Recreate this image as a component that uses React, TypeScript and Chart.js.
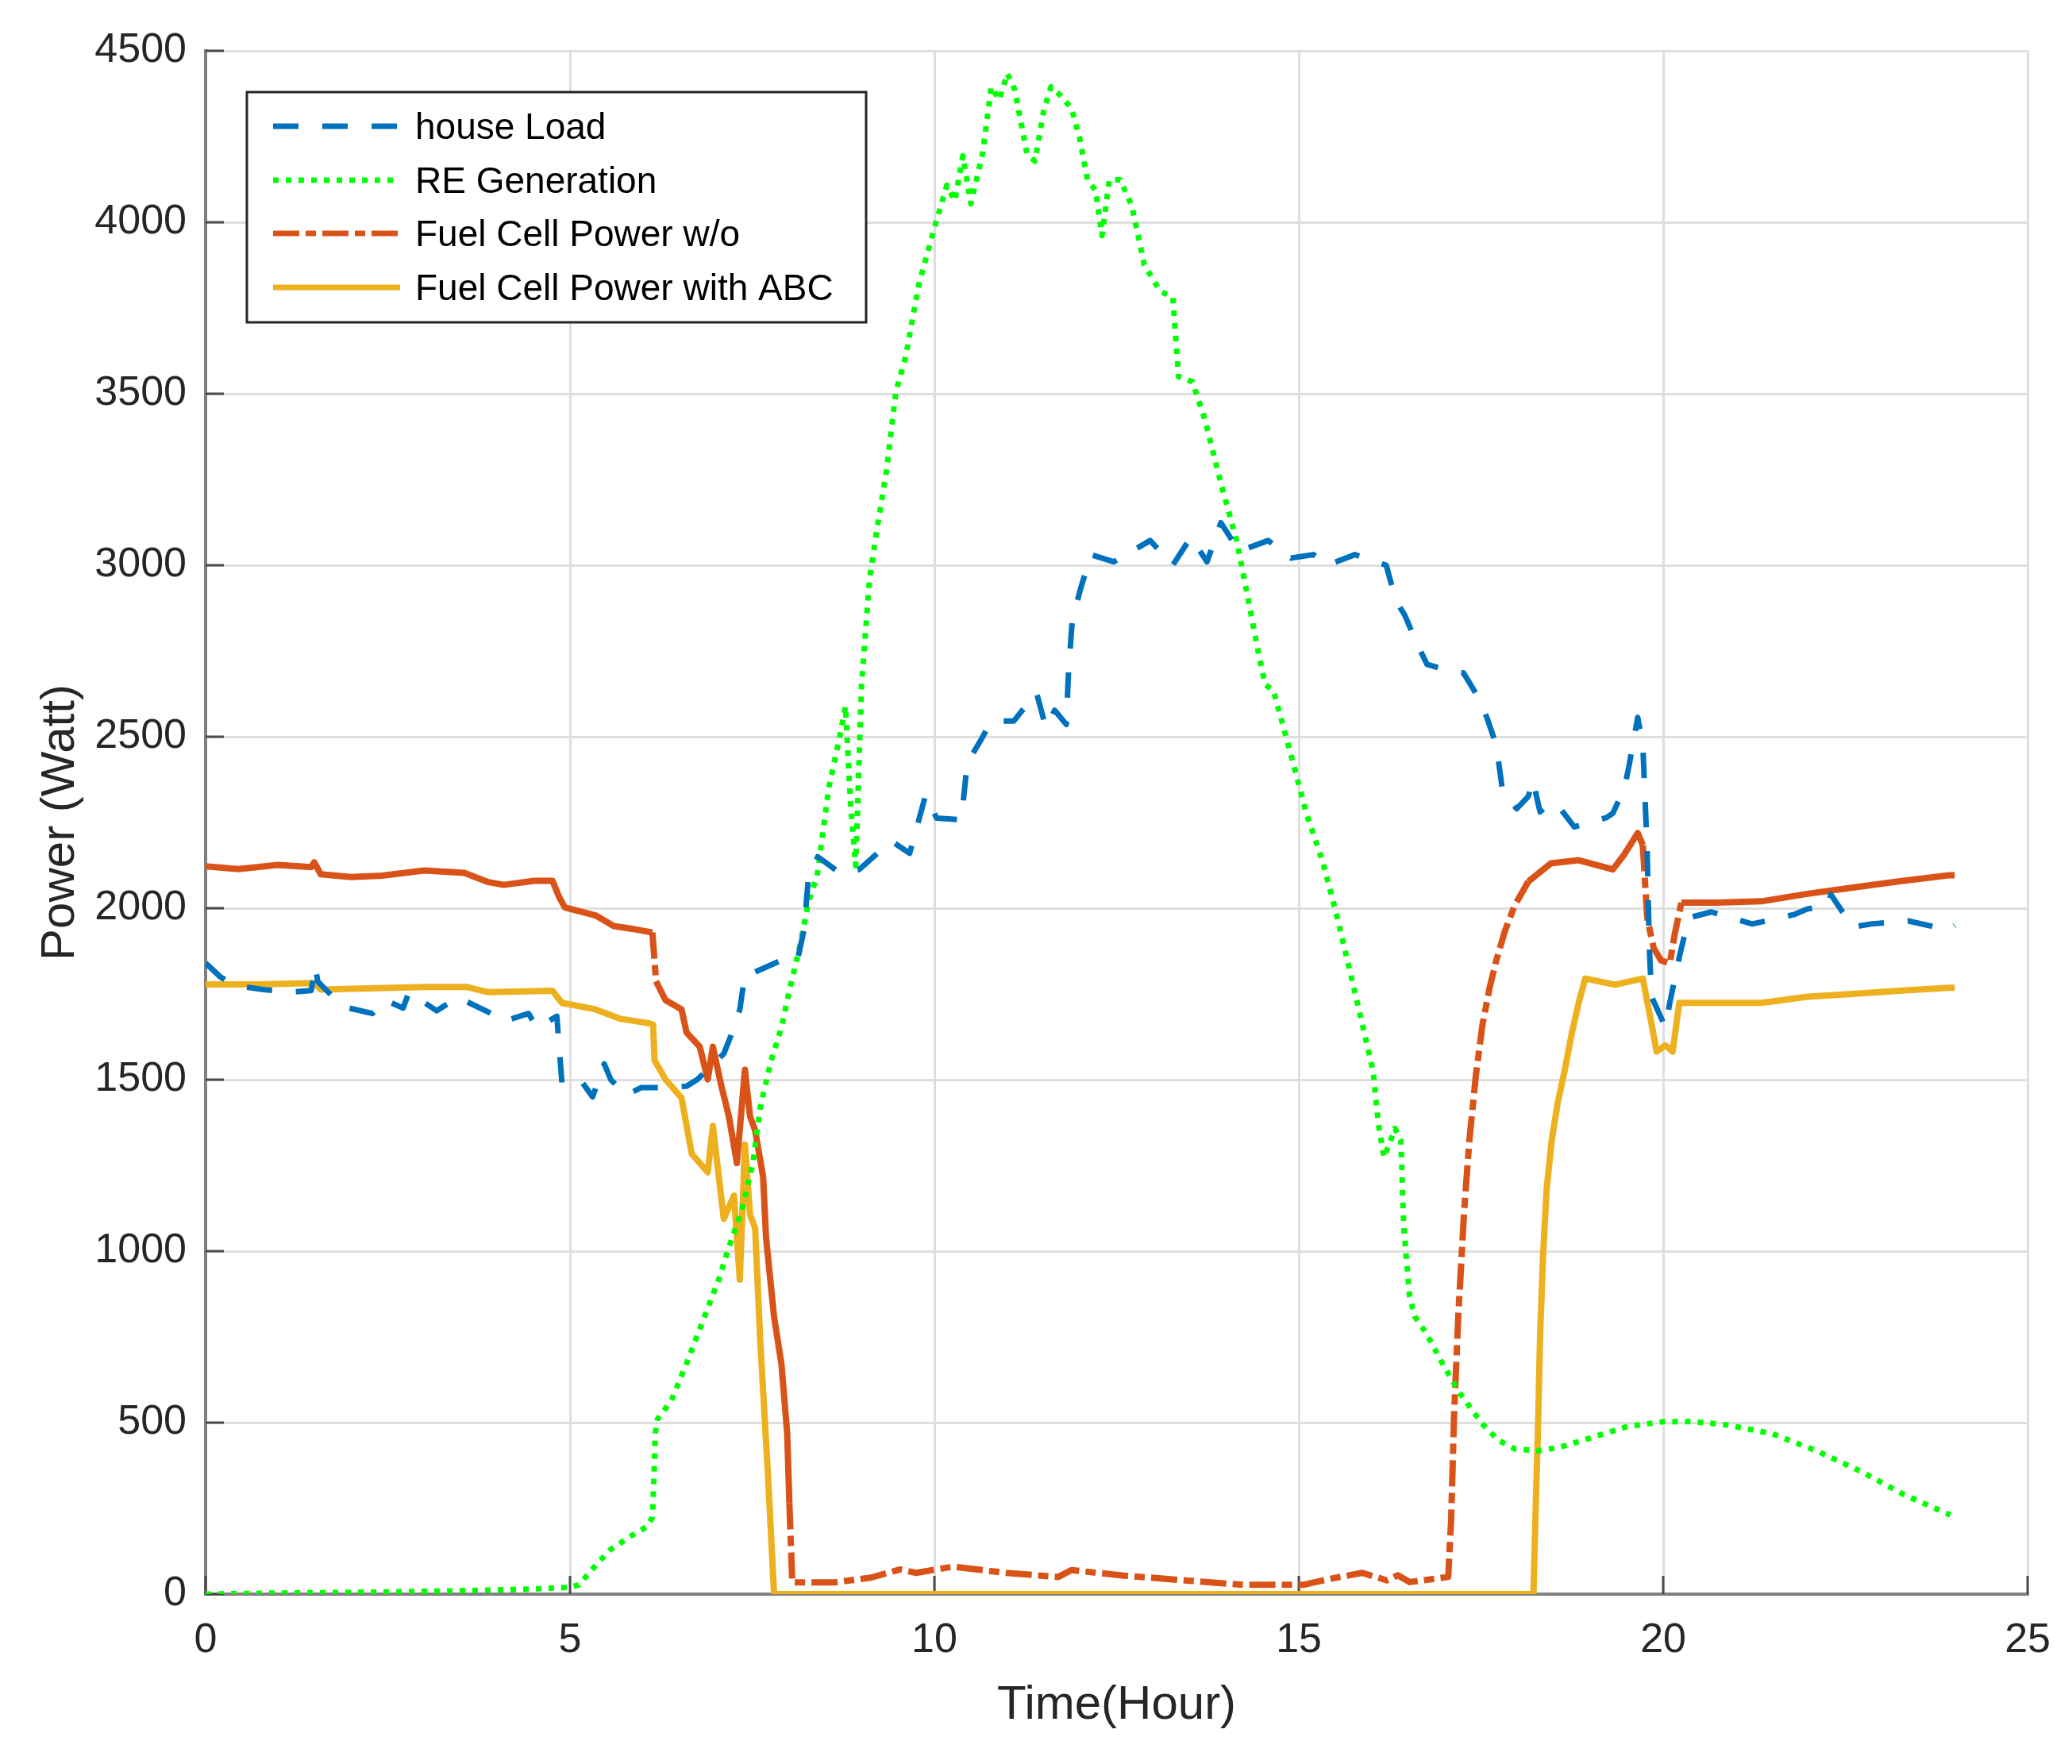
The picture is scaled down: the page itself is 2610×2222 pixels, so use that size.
import React, { useEffect, useRef } from 'react';
import { Chart, registerables } from 'chart.js';

Chart.register(...registerables);

const W = 2610;
const H = 2222;
const PLOT = { left: 259, right: 2563, top: 64, bottom: 2008 };

const xTicks = [0, 5, 10, 15, 20, 25];
const yTicks = [0, 500, 1000, 1500, 2000, 2500, 3000, 3500, 4000, 4500];

const seriesNames = ['house Load', 'RE Generation', 'Fuel Cell Power w/o', 'Fuel Cell Power with ABC'];
const seriesColors = ['#0072BD', '#00FF00', '#D95319', '#EDB120'];

const loadT = [0, 0.2, 0.4, 0.78, 1.16, 1.45, 1.5, 1.54, 1.83, 1.96, 2.29, 2.46, 2.71, 2.79, 3.17, 3.46, 3.92, 4.09, 4.43, 4.55, 4.82, 4.84, 4.89, 5.14, 5.31, 5.47, 5.56, 5.77, 5.98, 6.23, 6.6, 6.75, 7.11, 7.25, 7.33, 7.4, 7.54, 7.9, 8.12, 8.21, 8.27, 8.4, 8.72, 8.97, 9.41, 9.66, 9.88, 10.03, 10.37, 10.45, 10.65, 10.78, 11.09, 11.4, 11.53, 11.65, 11.81, 11.84, 11.89, 12.0, 12.15, 12.46, 12.96, 13.27, 13.52, 13.74, 13.93, 14.18, 14.58, 14.89, 15.2, 15.39, 15.77, 16.2, 16.33, 16.45, 16.64, 16.76, 17.08, 17.26, 17.45, 17.58, 17.71, 17.8, 17.99, 18.15, 18.21, 18.31, 18.46, 18.59, 18.78, 19.22, 19.31, 19.47, 19.53, 19.65, 19.72, 19.75, 19.78, 19.81, 19.84, 20.03, 20.09, 20.22, 20.35, 20.66, 21.22, 21.79, 21.98, 22.26, 22.3, 22.6, 22.85, 23.36, 23.92, 24];
const loadW = [1840, 1800, 1775, 1763, 1755, 1760, 1832, 1786, 1724, 1709, 1693, 1732, 1709, 1755, 1701, 1740, 1693, 1670, 1693, 1651, 1685, 1624, 1490, 1500, 1450, 1546, 1500, 1455, 1477, 1477, 1481, 1501, 1576, 1651, 1705, 1807, 1814, 1848, 1848, 1936, 2086, 2150, 2100, 2113, 2196, 2160, 2330, 2263, 2258, 2423, 2495, 2546, 2546, 2629, 2526, 2577, 2536, 2691, 2835, 2928, 3031, 3010, 3072, 3000, 3082, 3010, 3124, 3041, 3072, 3021, 3031, 3000, 3031, 3000, 2897, 2856, 2763, 2711, 2691, 2686, 2619, 2556, 2476, 2335, 2290, 2326, 2374, 2281, 2308, 2290, 2237, 2264, 2277, 2352, 2414, 2556, 2476, 2326, 2166, 1883, 1742, 1653, 1724, 1857, 1972, 1989, 1954, 1981, 1998, 2007, 2040, 1945, 1954, 1963, 1936, 1950];

const reT = [0, 1, 2, 3, 4, 4.5, 5, 5.12, 5.37, 5.55, 5.84, 6.06, 6.13, 6.15, 6.17, 6.2, 6.39, 6.6, 6.82, 7.04, 7.18, 7.36, 7.51, 7.61, 7.76, 7.9, 8.01, 8.16, 8.27, 8.39, 8.55, 8.7, 8.78, 8.85, 8.92, 9.0, 9.11, 9.22, 9.34, 9.47, 9.61, 9.78, 10, 10.17, 10.28, 10.39, 10.5, 10.66, 10.78, 10.89, 11.0, 11.1, 11.27, 11.38, 11.5, 11.6, 11.72, 11.88, 11.99, 12.1, 12.21, 12.3, 12.4, 12.55, 12.71, 12.88, 13.1, 13.27, 13.35, 13.54, 13.71, 13.93, 14.15, 14.32, 14.46, 14.54, 14.65, 14.87, 15.1, 15.33, 15.52, 15.77, 16.02, 16.09, 16.17, 16.32, 16.4, 16.44, 16.52, 16.59, 16.75, 16.98, 17.2, 17.51, 17.74, 17.97, 18.28, 18.58, 19.04, 19.5, 20.0, 20.42, 20.88, 21.49, 22.1, 22.72, 23.33, 23.94];
const reW = [0, 3, 5, 8, 12, 15, 20, 27, 88, 129, 170, 197, 224, 333, 469, 510, 564, 673, 795, 917, 1012, 1121, 1257, 1420, 1556, 1651, 1760, 1895, 2018, 2093, 2350, 2500, 2589, 2300, 2124, 2651, 2961, 3116, 3271, 3504, 3612, 3814, 3984, 4108, 4062, 4194, 4054, 4200, 4395, 4357, 4434, 4388, 4200, 4178, 4326, 4395, 4372, 4333, 4248, 4124, 4093, 3961, 4124, 4124, 4047, 3876, 3798, 3783, 3550, 3535, 3426, 3240, 3070, 2884, 2729, 2651, 2636, 2465, 2279, 2134, 1979, 1755, 1524, 1373, 1273, 1358, 1323, 1071, 870, 810, 760, 669, 589, 498, 448, 423, 418, 428, 458, 488, 503, 503, 493, 468, 418, 357, 287, 231];

const fcT = [0, 0.45, 0.99, 1.45, 1.49, 1.58, 2.0, 2.42, 3.0, 3.55, 3.88, 4.09, 4.51, 4.76, 4.85, 4.93, 5.35, 5.6, 5.85, 6.13, 6.16, 6.18, 6.31, 6.53, 6.6, 6.78, 6.89, 6.96, 7.07, 7.18, 7.29, 7.4, 7.47, 7.54, 7.65, 7.69, 7.8, 7.9, 7.98, 8.01, 8.05, 8.27, 8.63, 9.13, 9.53, 9.75, 10.25, 10.98, 11.7, 11.88, 12.6, 13.5, 14.25, 15.06, 15.44, 15.87, 16.21, 16.36, 16.52, 17.05, 17.09, 17.13, 17.19, 17.27, 17.34, 17.43, 17.52, 17.62, 17.71, 17.83, 17.96, 18.15, 18.46, 18.84, 19.31, 19.47, 19.65, 19.72, 19.78, 19.87, 19.97, 20.09, 20.16, 20.25, 20.72, 21.35, 21.98, 22.6, 23.23, 23.92, 24];
const fcW = [2122, 2114, 2126, 2120, 2134, 2099, 2091, 2095, 2110, 2103, 2076, 2068, 2080, 2080, 2033, 2002, 1979, 1948, 1940, 1929, 1848, 1787, 1732, 1705, 1637, 1596, 1501, 1596, 1488, 1393, 1257, 1529, 1393, 1352, 1216, 1039, 808, 673, 469, 265, 34, 34, 34, 48, 72, 62, 80, 62, 50, 70, 54, 39, 27, 27, 45, 62, 40, 55, 35, 50, 216, 518, 820, 1122, 1323, 1514, 1660, 1770, 1848, 1935, 2007, 2078, 2131, 2140, 2113, 2158, 2219, 2184, 1972, 1883, 1848, 1839, 1927, 2016, 2016, 2020, 2042, 2060, 2078, 2096, 2096];

const abcT = [0, 0.74, 1.49, 1.58, 3.0, 3.59, 3.88, 4.76, 4.89, 5.35, 5.68, 6.1, 6.14, 6.16, 6.31, 6.53, 6.67, 6.89, 6.96, 7.11, 7.25, 7.33, 7.4, 7.47, 7.54, 7.61, 7.72, 7.8, 18.22, 18.25, 18.28, 18.31, 18.35, 18.4, 18.47, 18.55, 18.65, 18.75, 18.84, 18.93, 19.34, 19.72, 19.84, 19.91, 20.03, 20.13, 20.22, 20.72, 21.35, 21.98, 22.6, 23.23, 23.92, 24];
const abcW = [1778, 1778, 1782, 1763, 1770, 1770, 1755, 1759, 1724, 1705, 1678, 1664, 1660, 1556, 1501, 1447, 1284, 1230, 1365, 1094, 1162, 917, 1311, 1107, 1067, 740, 333, 0, 0, 250, 468, 750, 980, 1180, 1323, 1430, 1529, 1640, 1724, 1795, 1777, 1795, 1662, 1582, 1600, 1582, 1724, 1724, 1724, 1742, 1750, 1759, 1768, 1768];

const DASH_LOAD = [32, 30];
const DASH_RE = [7, 9];
const DASH_FC = [33, 8, 13, 8];
const dashes = [DASH_LOAD, DASH_RE, DASH_FC, [] as number[]];
const widths = [7, 7, 8, 8];

const toXY = (t: number[], v: number[]) => t.map((x, i) => ({ x, y: v[i] }));

const FONT = "'Liberation Sans', Arial, Helvetica, sans-serif";

const fcDashed = (x0: number) =>
  (x0 >= 6.13 && x0 < 6.18) || (x0 >= 8.0 && x0 < 18.1) || (x0 >= 19.72 && x0 < 20.25);

const innerTicks = {
  id: 'innerTicks',
  beforeDatasetsDraw(chart: any) {
    const { ctx, chartArea, scales } = chart;
    ctx.save();
    ctx.strokeStyle = '#4a4a4a';
    ctx.lineWidth = 3;
    ctx.beginPath();
    for (const v of yTicks) {
      const y = scales.y.getPixelForValue(v);
      ctx.moveTo(chartArea.left, y);
      ctx.lineTo(chartArea.left + 23, y);
    }
    for (const v of xTicks) {
      const x = scales.x.getPixelForValue(v);
      ctx.moveTo(x, chartArea.bottom);
      ctx.lineTo(x, chartArea.bottom - 23);
    }
    ctx.stroke();
    ctx.restore();
  },
};

const boxLegend = {
  id: 'boxLegend',
  afterDraw(chart: any) {
    const ctx = chart.ctx;
    const bx = 311, by = 116, bw = 780, bh = 290;
    ctx.save();
    ctx.fillStyle = '#ffffff';
    ctx.fillRect(bx, by, bw, bh);
    ctx.strokeStyle = '#262626';
    ctx.lineWidth = 3;
    ctx.strokeRect(bx, by, bw, bh);
    const rowY = [159, 227, 294, 362];
    seriesNames.forEach((name, i) => {
      ctx.beginPath();
      ctx.strokeStyle = seriesColors[i];
      ctx.lineWidth = 7;
      ctx.lineCap = 'butt';
      ctx.setLineDash(dashes[i]);
      ctx.moveTo(344, rowY[i]);
      ctx.lineTo(504, rowY[i]);
      ctx.stroke();
      ctx.setLineDash([]);
      ctx.fillStyle = '#000000';
      ctx.font = `46px ${FONT}`;
      ctx.textAlign = 'left';
      ctx.textBaseline = 'middle';
      ctx.fillText(name, 523, rowY[i] + 3);
    });
    ctx.restore();
  },
};

export default function App() {
  const ref = useRef<HTMLCanvasElement | null>(null);

  useEffect(() => {
    document.body.style.margin = '0';
    const canvas = ref.current;
    if (!canvas) return;
    const chart = new Chart(canvas, {
      type: 'line',
      data: {
        datasets: [
          {
            label: seriesNames[0],
            data: toXY(loadT, loadW),
            borderColor: seriesColors[0],
            borderWidth: widths[0],
            borderDash: DASH_LOAD,
            pointRadius: 0,
            fill: false,
          },
          {
            label: seriesNames[1],
            data: toXY(reT, reW),
            borderColor: seriesColors[1],
            borderWidth: widths[1],
            borderDash: DASH_RE,
            pointRadius: 0,
            fill: false,
          },
          {
            label: seriesNames[2],
            data: toXY(fcT, fcW),
            borderColor: seriesColors[2],
            borderWidth: widths[2],
            pointRadius: 0,
            fill: false,
            segment: {
              borderDash: (c: any) => (fcDashed(c.p0.parsed.x) ? DASH_FC : []),
            },
          },
          {
            label: seriesNames[3],
            data: toXY(abcT, abcW),
            borderColor: seriesColors[3],
            borderWidth: widths[3],
            pointRadius: 0,
            fill: false,
          },
        ],
      },
      options: {
        responsive: false,
        animation: false,
        devicePixelRatio: 1,
        parsing: false,
        normalized: true,
        layout: { padding: { left: 0, right: W - PLOT.right, top: PLOT.top, bottom: 0 } },
        elements: { line: { tension: 0, borderJoinStyle: 'round' }, point: { radius: 0 } },
        plugins: { legend: { display: false }, tooltip: { enabled: false } },
        scales: {
          x: {
            type: 'linear',
            min: 0,
            max: 25,
            afterBuildTicks: (s: any) => {
              s.ticks = xTicks.map((value) => ({ value }));
            },
            afterFit: (s: any) => {
              s.height = H - PLOT.bottom;
            },
            grid: { color: '#dedede', lineWidth: 3, drawTicks: false },
            border: { color: '#808080', width: 4 },
            ticks: {
              padding: 27,
              color: '#262626',
              font: { size: 52, family: FONT },
              maxRotation: 0,
              autoSkip: false,
              callback: (v: any) => String(v),
            },
            title: {
              display: true,
              text: 'Time(Hour)',
              color: '#262626',
              font: { size: 60, family: FONT },
              padding: { top: 0, bottom: 38 },
            },
          },
          y: {
            type: 'linear',
            min: 0,
            max: 4500,
            afterBuildTicks: (s: any) => {
              s.ticks = yTicks.map((value) => ({ value }));
            },
            afterFit: (s: any) => {
              s.width = PLOT.left;
            },
            grid: { color: '#dedede', lineWidth: 3, drawTicks: false },
            border: { color: '#808080', width: 4 },
            ticks: {
              padding: 24,
              color: '#262626',
              font: { size: 52, family: FONT },
              autoSkip: false,
              callback: (v: any) => String(v),
            },
            title: {
              display: true,
              text: 'Power (Watt)',
              color: '#262626',
              font: { size: 60, family: FONT },
              padding: { top: 40, bottom: 0 },
            },
          },
        },
      } as any,
      plugins: [innerTicks, boxLegend],
    });
    return () => chart.destroy();
  }, []);

  return (
    <div style={{ width: W, height: H, background: '#ffffff' }}>
      <canvas ref={ref} width={W} height={H} style={{ display: 'block', width: W, height: H }} />
    </div>
  );
}
